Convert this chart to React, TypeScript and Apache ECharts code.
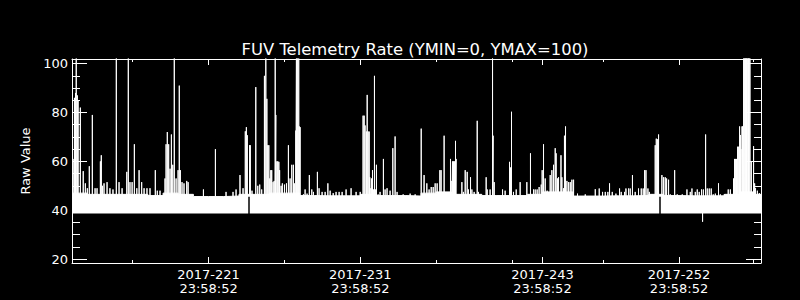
import React, { useEffect, useRef } from "react";
import * as echarts from "echarts";

const TITLE = "FUV Telemetry Rate (YMIN=0, YMAX=100)";
const Y_NAME = "Raw Value";
const X_MIN = 212.0;
const X_MAX = 257.4;
const Y_MIN = 18.4;
const Y_MAX = 101.9;

const yMajorTicks = [20, 40, 60, 80, 100];
const yMinorTicks = [25, 30, 35, 45, 50, 55, 65, 70, 75, 85, 90, 95];
const xMajorTicks = [221, 231, 243, 252];
const xTickLabels = ["2017-221\n23:58:52", "2017-231\n23:58:52", "2017-243\n23:58:52", "2017-252\n23:58:52"];
const xMinorTicks = [216, 226, 236, 241, 247, 256.9];

// Background band of telemetry values (day of year bins, upper edge of the dense band)
const BAND_LOW = 38.7;
const bandDays = [212, 213, 214, 215, 216, 217, 218, 219, 220, 221, 222, 223, 224, 225, 226, 227, 228, 229, 230, 231, 232, 233, 234, 235, 236, 237, 238, 239, 240, 241, 242, 243, 244, 245, 246, 247, 248, 249, 250, 251, 252, 253, 254, 255, 256, 257, 257.4];
const bandTop = [47.0, 46.5, 46.5, 46.5, 46.5, 46.0, 47.0, 46.5, 45.6, 45.6, 45.8, 46.5, 46.5, 47.0, 47.0, 46.0, 45.9, 45.9, 45.9, 46.5, 46.0, 46.0, 45.8, 47.0, 47.5, 46.5, 46.5, 46.0, 46.0, 46.0, 46.5, 47.5, 47.5, 45.8, 45.8, 45.9, 45.9, 46.0, 46.5, 46.0, 45.9, 45.9, 45.9, 46.5, 47.5, 46.5, 46.5];

// Individual spikes (day of year, raw value)
const SPIKE_BASE = 42;
const spikeDays = [
  212.07, 212.16, 212.23, 212.28, 212.35, 212.40, 212.55, 212.74, 212.88, 213.01,
  213.14, 213.34, 213.52, 213.65, 213.87, 213.93, 214.01, 214.11, 214.31, 214.50,
  214.70, 214.92, 215.10, 215.30, 215.61, 215.71, 215.82, 215.96, 216.11, 216.27,
  216.42, 216.59, 216.75, 216.94, 217.14, 217.49, 217.62, 217.80, 218.13, 218.20,
  218.28, 218.37, 218.46, 218.55, 218.64, 218.74, 218.86, 218.99, 219.07, 219.14,
  219.25, 219.38, 219.56, 219.65, 220.66, 221.45, 222.15, 222.61, 222.81, 223.07,
  223.27, 223.42, 223.49, 223.55, 223.70, 223.75, 223.86, 224.11, 224.24, 224.37,
  224.50, 224.68, 224.77, 224.84, 224.90, 224.97, 225.03, 225.10, 225.16, 225.25,
  225.32, 225.39, 225.43, 225.50, 225.56, 225.63, 225.68, 225.78, 225.86, 226.00,
  226.13, 226.26, 226.37, 226.48, 226.59, 226.65, 226.75, 226.79, 226.85, 226.94,
  226.98, 227.03, 227.25, 227.36, 227.49, 227.64, 227.80, 227.91, 228.17, 228.28,
  228.48, 228.68, 228.86, 229.01, 229.21, 229.40, 229.60, 229.80, 230.06, 230.39,
  230.72, 230.99, 231.18, 231.25, 231.31, 231.40, 231.45, 231.51, 231.58, 231.62,
  231.69, 231.73, 231.80, 231.86, 231.93, 232.01, 232.06, 232.17, 232.30, 232.52,
  232.63, 232.76, 232.96, 233.14, 233.29, 233.42, 233.82, 234.28, 234.61, 235.01,
  235.20, 235.38, 235.53, 235.67, 235.80, 235.93, 236.06, 236.24, 236.32, 236.52,
  236.65, 236.79, 236.94, 237.03, 237.07, 237.14, 237.20, 237.27, 237.31, 237.69,
  237.79, 237.91, 238.04, 238.12, 238.26, 238.35, 238.50, 238.70, 238.78, 239.29,
  239.36, 239.55, 239.71, 239.75, 239.82, 240.37, 240.54, 240.83, 240.89, 240.96,
  241.09, 241.27, 241.53, 241.97, 242.21, 242.41, 242.52, 242.65, 242.78, 242.92,
  242.98, 243.07, 243.18, 243.31, 243.51, 243.62, 243.73, 243.84, 243.90, 243.99,
  244.06, 244.22, 244.28, 244.39, 244.45, 244.52, 244.61, 244.72, 244.83, 244.94,
  245.05, 245.31, 245.82, 246.48, 246.74, 246.96, 247.14, 247.31, 247.42, 247.60,
  247.84, 248.08, 248.19, 248.41, 248.50, 248.67, 248.78, 248.93, 249.11, 249.33,
  249.51, 249.64, 249.73, 249.82, 249.95, 250.04, 250.23, 250.43, 250.50, 250.58,
  250.65, 250.87, 250.98, 251.09, 251.18, 251.31, 251.42, 251.71, 251.88, 252.21,
  252.52, 252.74, 252.85, 253.07, 253.20, 253.33, 253.48, 253.55, 253.60, 253.75,
  253.86, 253.99, 254.12, 254.25, 254.39, 254.60, 254.72, 254.98, 255.24, 255.38,
  255.59, 255.66, 255.73, 255.79, 255.86, 255.93, 255.99, 256.04, 256.08, 256.15,
  256.19, 256.26, 256.30, 256.35, 256.39, 256.44, 256.48, 256.53, 256.58, 256.62,
  256.67, 256.76, 256.91, 256.98, 257.04, 257.16, 257.29
];
const spikeValues = [
  61, 86, 88, 110, 87, 85, 82, 56, 51, 49,
  58, 79, 49, 49, 60, 62.5, 50, 51, 51.5, 49,
  48.5, 110, 51.5, 49, 55.7, 110, 51.5, 51.5, 67, 49,
  56.4, 51.5, 49, 49, 49, 56.4, 48, 48, 53, 67,
  72, 67, 57, 71, 58.6, 110, 53, 56.4, 91, 56.4,
  51.5, 51, 52, 51.5, 48.5, 65, 47.5, 47.5, 48.5, 54.4,
  49, 72.3, 74, 70.7, 66.6, 66.6, 48, 90.4, 50, 50.5,
  48.5, 95, 110, 85.6, 66.6, 66.6, 53, 56.4, 56.4, 51.5,
  52, 110, 79, 60, 60, 59.8, 56.4, 50, 51, 50.5,
  51, 66.6, 53, 58.6, 58.6, 51, 72.6, 110, 110, 110,
  74.3, 74, 46.5, 48.5, 46.8, 54.4, 48.5, 47.5, 55.7, 49,
  47.5, 47.5, 51, 48, 47, 47.5, 47.5, 47.5, 48.5, 49,
  47.5, 47.5, 78.7, 78.7, 74.7, 72.2, 87.2, 72.2, 72.2, 53.5,
  49, 53, 56.4, 48.5, 95, 48.5, 58.6, 46.5, 47.5, 61,
  48.5, 49, 48, 65.4, 70.2, 47.5, 46.5, 46.8, 46.5, 73.4,
  54.4, 51, 48.5, 49.5, 49.5, 51, 51, 56.4, 56.4, 70.5,
  46.5, 46.5, 61, 52, 60, 60, 60, 68.4, 61, 51.5,
  47.5, 56.4, 55.7, 48.5, 53.5, 48.5, 47.5, 76.6, 47.5, 53.5,
  48.5, 48.5, 110, 70.5, 51.5, 48.5, 48, 59.8, 57.5, 80.3,
  47.5, 48.5, 51.5, 51.5, 63.3, 48.5, 48.5, 48.5, 49.5, 50.5,
  56.4, 67, 53, 48, 54.4, 56.4, 58.6, 65.4, 63.3, 53,
  53.5, 62.5, 53.5, 49, 70.5, 74.3, 52, 51.5, 51.5, 52.5,
  52.5, 46.8, 46.5, 48.6, 48.9, 47.5, 47.5, 47.5, 51, 47.5,
  46.8, 48.9, 47.5, 47.5, 48.9, 48.9, 48.9, 54.4, 47.5, 48.9,
  48.9, 48.9, 56.4, 56.4, 48.9, 47.5, 46.5, 66.6, 69.3, 69,
  71, 54.4, 53.5, 53.5, 53, 52.5, 46.5, 56.4, 46.5, 46.5,
  48.5, 47.5, 48.9, 47.5, 48.5, 47.5, 48.5, 35.3, 48.5, 71,
  48.9, 48.9, 48.9, 46.5, 46.8, 51, 46.5, 46.5, 48.5, 48.5,
  53, 61, 61, 61, 66, 66, 74.3, 70.8, 65, 74.3,
  74.3, 110, 110, 110, 110, 110, 110, 110, 110, 110,
  110, 60, 66.2, 51, 49, 48, 47
];

// Short data drop-outs that cut through the band
const gapDays = [223.62, 250.73];
const GAP_LOW = 38.3;
const GAP_HIGH = 45.5;

const FONT = "DejaVu Sans";
const WHITE = "#ffffff";

function makeX(position: string, ticks: number[], len: number, showLine: boolean, labels: boolean) {
  return {
    type: "value",
    position,
    min: X_MIN,
    max: X_MAX,
    splitLine: { show: false },
    axisLine: { show: showLine, onZero: false, lineStyle: { color: WHITE, width: 1 } },
    axisTick: { show: true, inside: true, length: len, customValues: ticks, lineStyle: { color: WHITE, width: 1 } },
    axisLabel: labels
      ? {
          show: true,
          customValues: xMajorTicks,
          formatter: (v: number) => {
            const i = xMajorTicks.indexOf(v);
            return i >= 0 ? xTickLabels[i] : "";
          },
          color: WHITE,
          fontFamily: FONT,
          fontSize: 13,
          lineHeight: 14.5,
          margin: 4,
        }
      : { show: false },
  };
}

function makeY(position: string, ticks: number[], len: number, showLine: boolean, labels: boolean, name: boolean) {
  return {
    type: "value",
    position,
    min: Y_MIN,
    max: Y_MAX,
    splitLine: { show: false },
    name: name ? Y_NAME : "",
    nameLocation: "middle",
    nameRotate: 90,
    nameGap: 38,
    nameTextStyle: { color: WHITE, fontFamily: FONT, fontSize: 13 },
    axisLine: { show: showLine, onZero: false, lineStyle: { color: WHITE, width: 1 } },
    axisTick: { show: true, inside: true, length: len, customValues: ticks, lineStyle: { color: WHITE, width: 1 } },
    axisLabel: labels
      ? {
          show: true,
          customValues: yMajorTicks,
          formatter: (v: number) => String(v),
          color: WHITE,
          fontFamily: FONT,
          fontSize: 13,
          margin: 4,
        }
      : { show: false },
  };
}

export default function App() {
  const ref = useRef<HTMLDivElement>(null);
  useEffect(() => {
    document.body.style.margin = "0";
    document.body.style.background = "#000";
    const chart = echarts.init(ref.current!, null, { renderer: "svg" });

    const bandData = bandDays.map((d, i) => [d, bandTop[i]]);
    const spikeData: (number[])[] = [];
    spikeDays.forEach((d, i) => {
      spikeData.push([d, SPIKE_BASE], [d, spikeValues[i]], [d, SPIKE_BASE]);
    });
    const gapLines = gapDays.map((d) => [
      { coord: [d, GAP_LOW] },
      { coord: [d, GAP_HIGH] },
    ]);

    chart.setOption({
      animation: false,
      backgroundColor: "#000000",
      title: {
        text: TITLE,
        left: 410,
        top: 36,
        textAlign: "center",
        textStyle: { color: WHITE, fontFamily: FONT, fontSize: 16.4, fontWeight: "normal" },
      },
      grid: { left: 72, top: 59, width: 689, height: 204, containLabel: false },
      xAxis: [
        makeX("bottom", xMajorTicks, 6, true, true),
        makeX("bottom", xMinorTicks, 3, false, false),
        makeX("top", xMajorTicks, 6, true, false),
        makeX("top", xMinorTicks, 3, false, false),
      ],
      yAxis: [
        makeY("left", yMajorTicks, 15, true, true, true),
        makeY("left", yMinorTicks, 8, false, false, false),
        makeY("right", yMajorTicks, 15, true, false, false),
        makeY("right", yMinorTicks, 7, false, false, false),
      ],
      series: [
        {
          type: "line",
          name: "band",
          data: bandData,
          step: "end",
          symbol: "none",
          clip: true,
          lineStyle: { color: WHITE, width: 1 },
          areaStyle: { color: WHITE, opacity: 1, origin: BAND_LOW },
          z: 2,
        },
        {
          type: "line",
          name: "spikes",
          data: spikeData,
          symbol: "none",
          clip: true,
          lineStyle: { color: WHITE, width: 1 },
          z: 3,
        },
        {
          type: "line",
          name: "gaps",
          data: [],
          symbol: "none",
          z: 4,
          markLine: {
            silent: true,
            symbol: "none",
            label: { show: false },
            lineStyle: { color: "#000000", width: 1.5, type: "solid" },
            data: gapLines,
          },
        },
      ],
    });
    return () => chart.dispose();
  }, []);
  return <div ref={ref} style={{ position: "fixed", left: 0, top: 0, width: 800, height: 300 }} />;
}
